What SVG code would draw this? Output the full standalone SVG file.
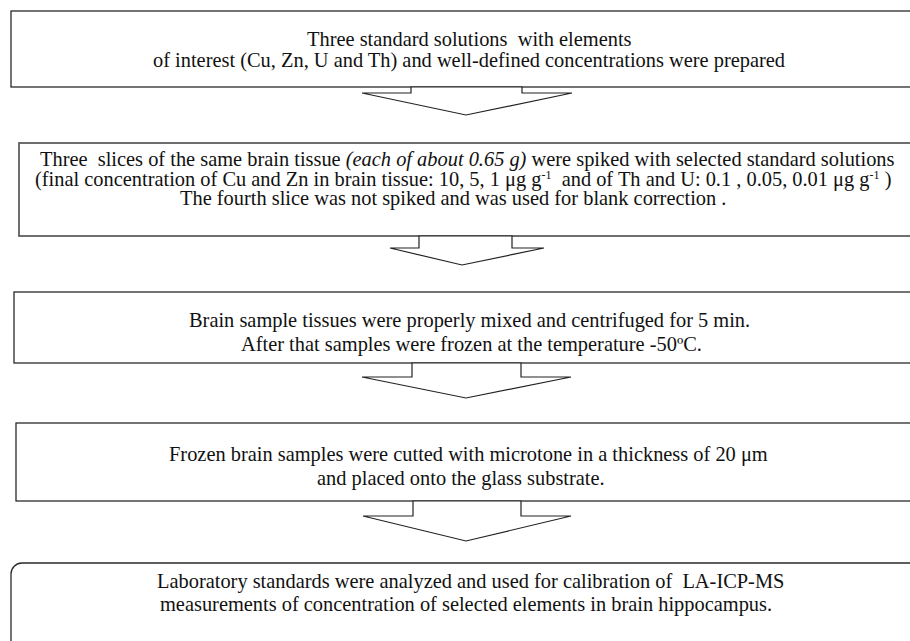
<svg xmlns="http://www.w3.org/2000/svg" width="910" height="641" viewBox="0 0 910 641" xml:space="preserve">
<style>
.box{fill:#fff;stroke:#2a2a2a;stroke-width:1.3}
.box2{stroke:#555;stroke-width:1.7}
.arr{fill:#fff;stroke:#222;stroke-width:1.2;stroke-linejoin:miter}
text{font-family:"Liberation Serif","Times New Roman",serif;font-size:20.4px;fill:#111;white-space:pre}
.it{font-style:italic}
.sup{font-size:12px}
</style>
<rect width="910" height="641" fill="#fff"/>
<g id="step1">
<rect class="box" x="11" y="11" width="930" height="76"/>
<text x="307" y="46">Three standard solutions  with elements</text>
<text x="153" y="67">of interest (Cu, Zn, U and Th) and well-defined concentrations were prepared</text>
</g>
<g id="step2">
<rect class="box box2" x="19" y="143" width="930" height="93"/>
<text x="40" y="166">Three  slices of the same brain tissue <tspan class="it">(each of about 0.65 g)</tspan> were spiked with selected standard solutions</text>
<text x="35" y="186">(final concentration of Cu and Zn in brain tissue: 10, 5, 1 μg g<tspan class="sup" dy="-7">-1</tspan><tspan dy="7">  and of Th and U: 0.1 , 0.05, 0.01 μg g</tspan><tspan class="sup" dy="-7">-1</tspan><tspan dy="7"> )</tspan></text>
<text x="180" y="205">The fourth slice was not spiked and was used for blank correction .</text>
</g>
<g id="step3">
<rect class="box" x="14" y="292" width="930" height="71"/>
<text x="189" y="327">Brain sample tissues were properly mixed and centrifuged for 5 min.</text>
<text x="241" y="351">After that samples were frozen at the temperature -50ºC.</text>
</g>
<g id="step4">
<rect class="box" x="16" y="423" width="930" height="78"/>
<text x="169" y="461">Frozen brain samples were cutted with microtone in a thickness of 20 μm</text>
<text x="317" y="485">and placed onto the glass substrate.</text>
</g>
<g id="step5">
<rect class="box" x="11" y="563" width="930" height="120" rx="11" ry="11"/>
<text x="157" y="588">Laboratory standards were analyzed and used for calibration of  LA-ICP-MS</text>
<text x="160" y="611">measurements of concentration of selected elements in brain hippocampus.</text>
</g>
<g id="connectors">
<polygon class="arr" points="411,87 411,93 362,93 466,115 572,93 522,93 522,87"/>
<polygon class="arr" points="419,236 419,248 390,248 462,265 544,248 512,248 512,236"/>
<polygon class="arr" points="412,363 412,377 362,377 466,398 571,377 521,377 521,363"/>
<polygon class="arr" points="413,501 413,516 363,516 466,541 571,516 521,516 521,501"/>
</g>
</svg>
